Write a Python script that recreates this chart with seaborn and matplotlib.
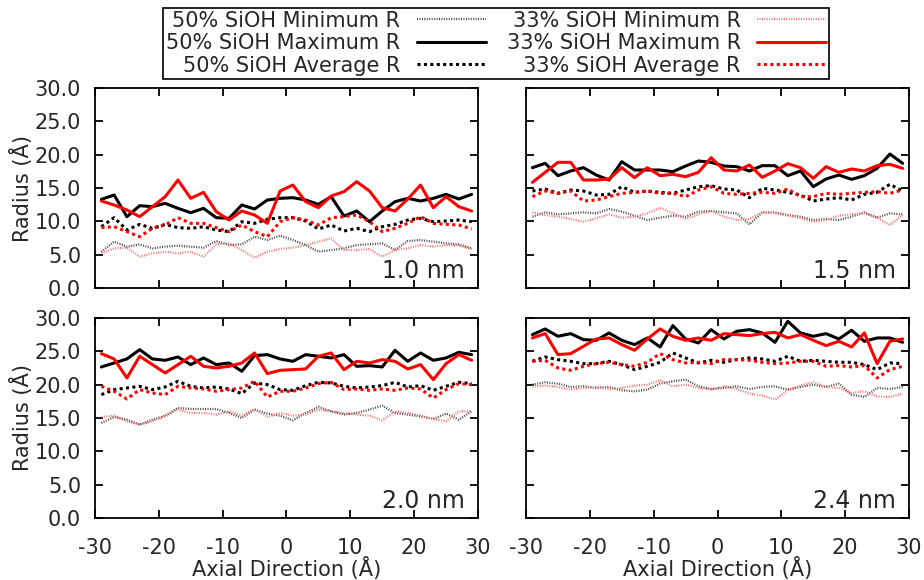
import matplotlib
matplotlib.use("Agg")
import matplotlib.pyplot as plt
import seaborn as sns

sns.set_style("ticks")
plt.rcParams['font.family'] = ['DejaVu Sans']

# axial positions (Angstrom)
axial = [-29, -27, -25, -23, -21, -19, -17, -15, -13, -11, -9, -7, -5, -3, -1,
         1, 3, 5, 7, 9, 11, 13, 15, 17, 19, 21, 23, 25, 27, 29]

# ---- 1.0 nm pore ----
p10_min50 = [5.45, 6.95, 6.2, 6.55, 5.95, 6.2, 6.35, 6.2, 6.05, 7.05, 6.45, 6.55, 7.7, 7.2, 7.85,
             7.2, 6.45, 5.45, 5.7, 5.95, 6.45, 6.55, 6.7, 5.7, 7.05, 7.2, 6.95, 6.7, 6.55, 5.95]
p10_max50 = [13.3, 13.95, 10.7, 12.35, 12.2, 12.7, 11.95, 11.3, 11.95, 10.55, 10.45, 12.45, 11.85, 13.2, 13.45,
             13.55, 13.2, 12.55, 13.7, 10.8, 11.55, 9.95, 11.55, 12.95, 13.45, 13.05, 13.45, 14.05, 13.35, 14.05]
p10_avg50 = [9.2, 10.55, 8.7, 9.55, 8.95, 9.55, 9.05, 8.95, 9.2, 8.7, 8.45, 9.95, 9.7, 10.3, 10.55,
             10.55, 10.05, 8.85, 9.45, 8.55, 8.95, 8.45, 9.2, 9.55, 10.2, 10.45, 9.95, 10.05, 10.2, 9.95]
p10_min33 = [5.2, 5.95, 6.05, 4.7, 5.2, 5.45, 5.2, 5.45, 4.7, 6.55, 6.7, 5.7, 4.55, 5.45, 5.85,
             6.05, 6.45, 6.95, 7.45, 5.7, 5.7, 5.85, 4.7, 5.7, 5.95, 6.45, 6.2, 6.45, 6.35, 5.85]
p10_max33 = [13.05, 12.45, 11.7, 10.7, 12.2, 13.7, 16.2, 13.45, 14.35, 11.45, 10.2, 11.55, 10.95, 9.7, 14.55,
             15.45, 12.95, 12.05, 13.8, 14.45, 15.95, 14.55, 12.05, 11.55, 13.35, 15.45, 12.05, 13.7, 12.2, 11.55]
p10_avg33 = [9.05, 9.2, 8.45, 7.7, 8.95, 9.45, 10.55, 9.7, 9.7, 9.05, 8.45, 9.45, 8.45, 7.7, 9.95,
             10.55, 10.2, 9.45, 10.55, 10.7, 10.95, 9.95, 8.45, 8.95, 9.7, 10.7, 9.7, 9.55, 9.45, 8.85]

# ---- 1.5 nm pore ----
p15_min50 = [10.7, 11.35, 11.05, 11.2, 11.35, 11.2, 11.85, 11.45, 10.85, 10.2, 10.55, 10.85, 10.7, 11.45, 11.55,
             11.35, 11.2, 9.55, 11.35, 11.35, 10.95, 10.7, 10.2, 10.35, 10.2, 10.7, 11.35, 10.55, 11.2, 11.05]
p15_max50 = [18.05, 18.7, 16.85, 17.55, 18.05, 16.95, 16.2, 18.95, 17.7, 17.7, 17.7, 17.45, 18.3, 19.05, 18.85,
             18.3, 18.2, 17.55, 18.35, 18.35, 16.85, 17.55, 15.2, 16.35, 16.95, 16.3, 16.85, 17.95, 20.1, 18.7]
p15_avg50 = [14.55, 14.85, 14.2, 14.7, 14.55, 13.95, 14.05, 15.2, 14.35, 14.55, 14.35, 14.2, 14.7, 15.2, 15.35,
             14.85, 14.7, 13.55, 14.95, 14.7, 14.35, 13.95, 13.05, 13.35, 13.55, 13.2, 14.05, 14.35, 15.55, 14.55]
p15_min33 = [11.35, 10.95, 10.7, 10.35, 9.95, 10.45, 11.05, 10.55, 10.7, 11.2, 12.05, 11.2, 10.35, 11.05, 11.55,
             10.7, 10.2, 10.35, 11.35, 11.2, 10.85, 10.45, 9.95, 10.2, 10.85, 11.05, 11.2, 10.55, 9.45, 10.95]
p15_max33 = [15.85, 17.35, 18.85, 18.85, 16.2, 16.2, 16.35, 18.05, 16.55, 18.05, 16.85, 17.05, 16.7, 17.35, 19.55,
             17.7, 17.55, 18.45, 16.6, 17.55, 18.65, 18.05, 16.45, 18.2, 17.35, 17.85, 17.55, 18.35, 18.55, 17.95]
p15_avg33 = [13.7, 14.55, 14.2, 14.55, 13.05, 13.2, 13.7, 14.2, 14.35, 14.55, 14.2, 14.2, 13.7, 14.7, 15.2,
             14.2, 14.05, 14.2, 14.35, 14.2, 14.85, 13.7, 13.7, 14.2, 14.05, 14.2, 14.35, 14.45, 14.2, 14.7]

# ---- 2.0 nm pore ----
p20_min50 = [14.25, 15.15, 14.75, 14.0, 14.75, 15.35, 16.5, 16.35, 16.35, 16.35, 15.75, 15.0, 16.25, 15.65, 15.35,
             14.65, 15.75, 16.65, 16.0, 15.5, 15.75, 16.25, 16.85, 15.75, 15.5, 15.25, 14.85, 15.65, 14.75, 16.0]
p20_max50 = [22.65, 23.25, 23.85, 25.25, 23.85, 23.65, 24.15, 23.0, 24.0, 23.0, 23.25, 22.0, 24.35, 24.5, 23.85,
             23.5, 24.5, 24.25, 24.0, 24.5, 22.75, 22.85, 22.65, 25.15, 23.5, 24.75, 23.65, 24.0, 24.85, 24.5]
p20_avg50 = [18.5, 19.25, 19.5, 19.75, 19.25, 19.65, 20.5, 19.75, 19.5, 19.65, 19.35, 18.65, 20.25, 20.0, 19.25,
             19.15, 19.85, 20.35, 20.25, 19.75, 19.5, 19.65, 19.85, 20.35, 19.65, 19.85, 19.15, 19.75, 20.35, 20.15]
p20_min33 = [15.15, 15.35, 14.5, 14.0, 14.5, 15.25, 16.25, 15.75, 15.75, 15.5, 16.0, 15.35, 16.35, 15.15, 15.75,
             15.35, 15.5, 16.25, 16.0, 15.75, 15.5, 15.35, 14.65, 16.0, 15.75, 15.35, 14.85, 14.5, 16.0, 16.0]
p20_max33 = [24.65, 23.85, 21.0, 24.25, 23.0, 21.75, 23.0, 24.25, 22.75, 22.5, 22.75, 23.25, 24.75, 21.65, 22.15,
             22.25, 22.35, 24.25, 24.75, 22.25, 23.5, 23.25, 23.75, 23.5, 22.35, 23.0, 20.75, 23.15, 24.5, 23.65]
p20_avg33 = [19.75, 19.0, 17.85, 19.25, 18.75, 18.5, 19.75, 19.5, 19.35, 19.0, 19.25, 19.5, 20.5, 18.15, 19.0,
             19.0, 19.5, 20.15, 20.35, 19.25, 19.35, 19.15, 19.35, 19.15, 19.5, 19.35, 18.0, 19.25, 20.15, 20.0]

# ---- 2.4 nm pore ----
p24_min50 = [20.0, 20.35, 20.15, 19.65, 19.75, 19.5, 19.65, 19.15, 19.0, 19.25, 20.15, 20.5, 20.75, 19.75, 19.35,
             19.5, 19.75, 19.35, 19.65, 19.75, 19.25, 19.65, 20.0, 19.65, 20.15, 18.5, 18.15, 19.5, 19.35, 19.65]
p24_max50 = [27.5, 28.35, 27.25, 27.65, 26.75, 26.65, 27.75, 26.65, 26.0, 27.0, 25.65, 28.85, 26.85, 26.25, 28.25,
             26.85, 28.0, 28.25, 27.75, 26.35, 29.5, 27.75, 27.25, 27.65, 26.85, 28.15, 26.5, 27.0, 27.0, 26.35]
p24_avg50 = [23.5, 24.15, 23.75, 23.5, 23.15, 23.15, 23.5, 23.0, 22.25, 22.75, 23.35, 24.75, 24.0, 23.25, 23.65,
             23.35, 23.75, 24.0, 23.85, 23.5, 24.25, 23.5, 23.65, 23.5, 23.35, 23.35, 23.0, 22.25, 23.25, 23.15]
p24_min33 = [19.75, 19.85, 19.65, 19.25, 19.5, 19.65, 19.35, 19.5, 19.85, 20.0, 20.65, 19.75, 20.0, 19.5, 19.25,
             19.75, 19.35, 18.65, 18.35, 17.75, 19.15, 19.85, 20.35, 19.65, 19.5, 18.75, 19.0, 18.25, 18.15, 18.65]
p24_max33 = [27.0, 27.65, 24.5, 24.65, 25.75, 26.85, 27.0, 26.0, 25.15, 26.85, 28.35, 27.25, 26.65, 27.0, 26.65,
             27.65, 27.5, 27.35, 27.65, 27.85, 27.0, 27.5, 26.65, 25.85, 26.5, 25.65, 27.75, 23.15, 26.5, 26.85]
p24_avg33 = [23.5, 23.65, 22.5, 22.15, 22.75, 23.15, 23.35, 23.0, 22.75, 23.35, 24.65, 23.75, 23.25, 23.35, 23.15,
             23.75, 23.75, 23.65, 23.35, 23.15, 23.25, 23.5, 23.5, 22.75, 22.85, 22.65, 22.85, 21.0, 22.25, 22.75]

pore_labels = ["1.0 nm", "1.5 nm", "2.0 nm", "2.4 nm"]
series_labels = ["50% SiOH Minimum R", "50% SiOH Maximum R", "50% SiOH Average R",
                 "33% SiOH Minimum R", "33% SiOH Maximum R", "33% SiOH Average R"]
x_ticks = [-30, -20, -10, 0, 10, 20, 30]
y_ticks = [0, 5, 10, 15, 20, 25, 30]

panels = [
    [p10_min50, p10_max50, p10_avg50, p10_min33, p10_max33, p10_avg33],
    [p15_min50, p15_max50, p15_avg50, p15_min33, p15_max33, p15_avg33],
    [p20_min50, p20_max50, p20_avg50, p20_min33, p20_max33, p20_avg33],
    [p24_min50, p24_max50, p24_avg50, p24_min33, p24_max33, p24_avg33],
]

# line styles: (colour, width, dash pattern)
styles = [
    ("#444444", 1.6, (0, (0.45, 0.65))),
    ("black", 2.2, "-"),
    ("black", 2.2, (0, (1.0, 1.1))),
    ("#ff7070", 1.6, (0, (0.45, 0.65))),
    ("#ff0000", 2.2, "-"),
    ("#ff0000", 2.2, (0, (1.0, 1.1))),
]

FS = 15

fig = plt.figure(figsize=(9.24, 5.8), dpi=100)
rects = [
    [0.1028, 0.5034, 0.4145, 0.3449],
    [0.5693, 0.5034, 0.4145, 0.3449],
    [0.1028, 0.1069, 0.4145, 0.3449],
    [0.5693, 0.1069, 0.4145, 0.3449],
]

axes = []
for k, rect in enumerate(rects):
    ax = fig.add_axes(rect)
    for vals, lab, (col, lw, ls) in zip(panels[k], series_labels, styles):
        sns.lineplot(x=axial, y=vals, ax=ax, color=col, linewidth=lw,
                     linestyle=ls, label=lab, errorbar=None, legend=False)
    ax.set_xlim(-30, 30)
    ax.set_ylim(0, 30)
    ax.set_xticks(x_ticks)
    ax.set_yticks(y_ticks)
    ax.tick_params(direction="in", top=True, right=True, length=5.5, width=1.3,
                   labelsize=FS, color="black")
    ax.tick_params(axis="x", pad=14.5)
    ax.tick_params(axis="y", pad=10)
    for sp in ax.spines.values():
        sp.set_linewidth(1.3)
        sp.set_color("black")
    if k % 2 == 0:
        ax.set_yticklabels([f"{v:.1f}" for v in y_ticks])
        ax.set_ylabel("Radius (Å)", fontsize=FS, labelpad=1)
    else:
        ax.set_yticklabels([])
    if k >= 2:
        ax.set_xticklabels([str(v) for v in x_ticks])
        ax.set_xlabel("Axial Direction (Å)", fontsize=FS, labelpad=-1)
    else:
        ax.set_xticklabels([])
    ax.text(0.966, 0.05, pore_labels[k], transform=ax.transAxes,
            ha="right", va="baseline", fontsize=17)
    axes.append(ax)

handles = axes[0].get_lines()[:6]
leg = fig.legend(handles, series_labels, loc="upper center",
                 bbox_to_anchor=(0.537, 0.987), ncol=2, markerfirst=False,
                 fontsize=FS, frameon=True, fancybox=False, edgecolor="black",
                 framealpha=1, handlelength=3.3, handletextpad=0.8,
                 columnspacing=1.0, labelspacing=0.12, borderpad=0.15,
                 borderaxespad=0)
leg.get_frame().set_linewidth(1.2)

fig.savefig("out.png", dpi=100)
